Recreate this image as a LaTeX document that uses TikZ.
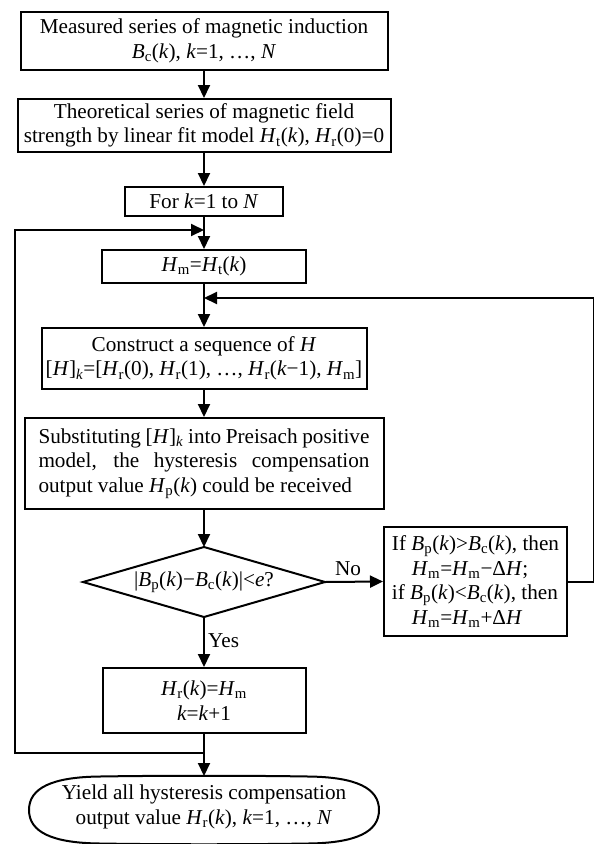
\documentclass[tikz,border=0pt]{standalone}
\usepackage{fontspec}
\setmainfont{Liberation Serif}
\usetikzlibrary{arrows.meta,shapes.geometric}
\newcommand\iv[1]{\textit{#1}}
\newcommand\sbs[1]{\textsubscript{#1}}
\begin{document}
\begin{tikzpicture}[x=1pt,y=-1pt,
  every node/.style={font=\fontsize{21.2}{24.5}\selectfont},
  proc/.style={draw, line width=2pt, inner sep=0pt, align=center},
  conn/.style={line width=2pt},
  arr/.style={conn, -{Triangle[length=13pt,width=12pt]}},
  lbl/.style={inner sep=0pt}
]
\useasboundingbox (0,0) rectangle (594,844);

\node[proc, minimum width=367pt, minimum height=58pt] (b1) at (204,41)
  {Measured series of magnetic induction\\ \iv{B}\sbs{c}(\iv{k}), \iv{k}=1, …, \iv{N}};
\node[proc, minimum width=373pt, minimum height=53pt] (b2) at (204,125.5)
  {Theoretical series of magnetic field\\ strength by linear fit model \iv{H}\sbs{t}(\iv{k}), \iv{H}\sbs{r}(0)=0};
\node[proc, minimum width=158pt, minimum height=29pt] (b3) at (204,201.5)
  {For \iv{k}=1 to \iv{N}};
\node[proc, minimum width=204pt, minimum height=33pt] (b4) at (204,266.5)
  {\iv{H}\sbs{m}=\iv{H}\sbs{t}(\iv{k})};
\node[proc, minimum width=325pt, minimum height=61pt] (b5) at (204,358.5)
  {Construct a sequence of \iv{H}\\ {[}\iv{H}]\sbs{\iv{k}}=[\iv{H}\sbs{r}(0), \iv{H}\sbs{r}(1), …, \iv{H}\sbs{r}(\iv{k}−1), \iv{H}\sbs{m}]};
\node[proc, minimum width=359pt, minimum height=91pt, align=left] (b6) at (204,463.5)
  {\makebox[331pt][s]{Substituting [\iv{H}]\sbs{\iv{k}} into Preisach positive}\\
   \makebox[331pt][s]{model, the hysteresis compensation}\\
   output value \iv{H}\sbs{p}(\iv{k}) could be received};

% decision diamond
\coordinate (dtop) at (204,547);
\coordinate (dright) at (325,582);
\coordinate (dbot) at (204,617);
\coordinate (dleft) at (83,582);
\draw[line width=2pt, line join=miter] (dtop) -- (dright) -- (dbot) -- (dleft) -- cycle;
\node[lbl] (dec) at (204,582) {|\iv{B}\sbs{p}(\iv{k})−\iv{B}\sbs{c}(\iv{k})|<\iv{e}?};

\node[proc, minimum width=183pt, minimum height=109pt, align=left] (ifb) at (475.5,581.5)
  {If \iv{B}\sbs{p}(\iv{k})>\iv{B}\sbs{c}(\iv{k}), then\\
   \hspace*{20pt}\iv{H}\sbs{m}=\iv{H}\sbs{m}−Δ\iv{H};\\
   if \iv{B}\sbs{p}(\iv{k})<\iv{B}\sbs{c}(\iv{k}), then\\
   \hspace*{20pt}\iv{H}\sbs{m}=\iv{H}\sbs{m}+Δ\iv{H}};

\node[proc, minimum width=203pt, minimum height=65pt] (b7) at (204,700.5)
  {\iv{H}\sbs{r}(\iv{k})=\iv{H}\sbs{m}\\ \iv{k}=\iv{k}+1};

% terminator (flattened ellipse)
\coordinate (etop) at (204,776);
\draw[line width=2pt] (29,810) .. controls (29,788) and (52,777) .. (100,776.5)
  .. controls (160,775.5) and (248,775.5) .. (308,776.5)
  .. controls (356,777) and (379,788) .. (379,810)
  .. controls (379,832) and (356,843) .. (308,843.5)
  .. controls (248,844.5) and (160,844.5) .. (100,843.5)
  .. controls (52,843) and (29,832) .. (29,810) -- cycle;
\node[inner sep=0pt, align=center] (ell) at (204,807)
  {Yield all hysteresis compensation\\ output value \iv{H}\sbs{r}(\iv{k}), \iv{k}=1, …, \iv{N}};

\node[lbl] (no) at (348,569) {No};
\node[lbl, anchor=west] (yes) at (208,641) {Yes};

\coordinate (j1) at (204,753);
\coordinate (j2) at (204,230);
\coordinate (fb) at (204,298);

\draw[arr] (b1) -- (b2);
\draw[arr] (b2) -- (b3);
\draw[arr] (b3) -- (b4);
\draw[arr] (b4) -- (b5);
\draw[arr] (b5) -- (b6);
\draw[arr] (b6) -- (dtop);
\draw[arr] (dright) -- (ifb.west);
\draw[arr] (dbot) -- (b7.north);
\draw[arr] (b7) -- (etop);
\draw[arr] (j1) -- ++(-189,0) |- (j2);
\draw[arr] (ifb.east) -- ++(26,0) |- (fb);
\end{tikzpicture}
\end{document}
